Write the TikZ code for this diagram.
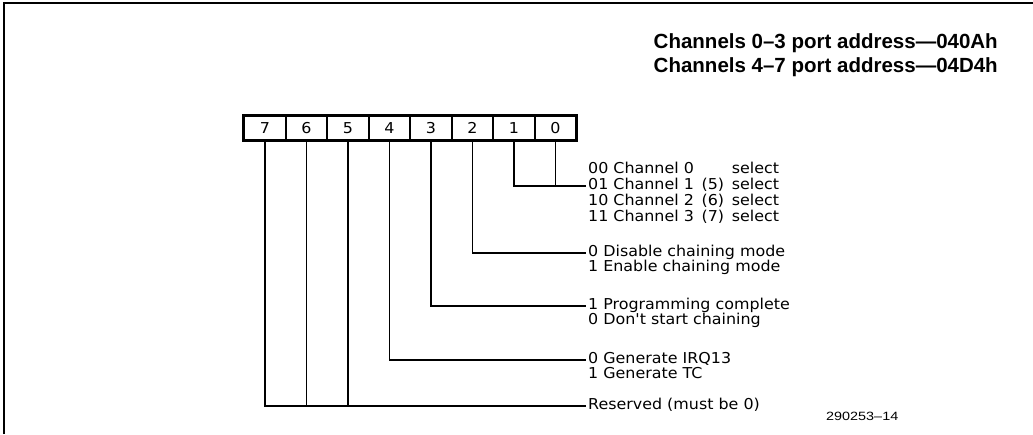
\documentclass[tikz,border=0pt]{standalone}
\usepackage{fontspec}
\setmainfont{DejaVu Sans}
\newfontfamily\lblfont[FakeStretch=1.06]{DejaVu Sans}
\newfontfamily\hdrfont{Liberation Sans}
\newfontfamily\idfont[FakeStretch=1.2]{Liberation Sans}
\newcommand{\chrow}[2]{#1 \makebox[1.85em][c]{#2} select}
\begin{document}
\begin{tikzpicture}[x=1pt,y=-1pt,
  cell/.style={draw, line width=1.6pt, minimum width=41.5pt, minimum height=24pt,
    inner sep=0pt, anchor=center, font=\lblfont\fontsize{15}{15}\selectfont},
  lbl/.style={anchor=west, inner xsep=2pt, inner ysep=0pt, text height=10pt,
    text depth=3pt, font=\lblfont\fontsize{15}{16}\selectfont},
  conn/.style={line width=1.8pt},
  frame/.style={line width=2pt},
  hdr/.style={anchor=east, inner sep=0pt, font=\hdrfont\bfseries\fontsize{20.5}{22}\selectfont},
  idlbl/.style={anchor=west, inner sep=0pt, font=\idfont\fontsize{12}{12}\selectfont}
]
\useasboundingbox (0,0) rectangle (1033,434);
% frame (left and top edges)
\coordinate (fbl) at (4,434);
\coordinate (ftl) at (4,3);
\coordinate (ftr) at (1033,3);
\draw[frame] (fbl) -- (ftl) -- (ftr);
% header
\node[hdr] (h1) at (998,43) {Channels 0–3 port address—040Ah};
\node[hdr] (h2) at (998,67) {Channels 4–7 port address—04D4h};
% register cells
\foreach \i in {0,...,7} {
  \node[cell] (b\i) at ({265+41.5*(7-\i)},128) {\i};
}
\draw[line width=2.8pt] (b7.north west) rectangle (b0.south east);
% descriptions
\node[lbl] (t00) at (586,170) {\chrow{00 Channel 0}{}};
\node[lbl] (t01) at (586,186) {\chrow{01 Channel 1}{(5)}};
\node[lbl] (t10) at (586,202) {\chrow{10 Channel 2}{(6)}};
\node[lbl] (t11) at (586,218) {\chrow{11 Channel 3}{(7)}};
\node[lbl] (tdis) at (586,253) {0 Disable chaining mode};
\node[lbl] (tena) at (586,268) {1 Enable chaining mode};
\node[lbl] (tprog) at (586,306) {1 Programming complete};
\node[lbl] (tdont) at (586,321) {0 Don't start chaining};
\node[lbl] (tirq) at (586,360) {0 Generate IRQ13};
\node[lbl] (ttc) at (586,375) {1 Generate TC};
\node[lbl] (tres) at (586,406) {Reserved (must be 0)};
\node[idlbl] (fig) at (826,416) {290253–14};
% connectors
\draw[conn] (b1.south) |- (t01.west);
\draw[conn] (b0.south) -- (b0.south |- t01.west);
\draw[conn] (b2.south) |- (tdis.west);
\draw[conn] (b3.south) |- (tprog.west);
\draw[conn] (b4.south) |- (tirq.west);
\draw[conn] (b7.south) |- (tres.west);
\draw[conn] (b6.south) -- (b6.south |- tres.west);
\draw[conn] (b5.south) -- (b5.south |- tres.west);
\end{tikzpicture}
\end{document}
